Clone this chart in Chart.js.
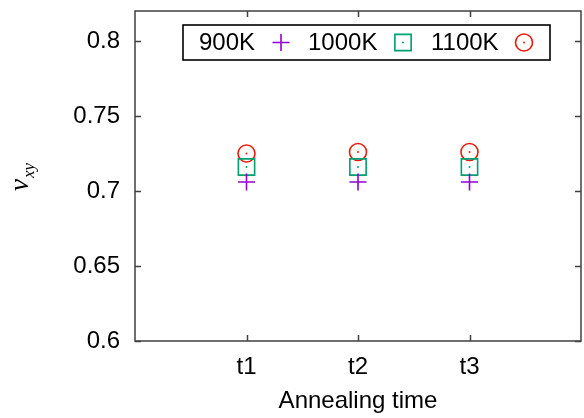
<!DOCTYPE html>
<html>
<head>
<meta charset="utf-8">
<script src="https://cdn.jsdelivr.net/npm/chart.js@4.4.1/dist/chart.umd.min.js"></script>
<style>
  html, body { margin: 0; padding: 0; background: #fff; }
  #wrap { width: 584px; height: 418px; }
</style>
</head>
<body>
<div id="wrap"><canvas id="nuChart" width="584" height="418"></canvas></div>
<script>
// annealing times and Poisson ratio nu_xy per temperature
var timeLabels = ['t1', 't2', 't3'];
var timePos = [1, 2, 3];
var seriesNames = ['900K', '1000K', '1100K'];
var nu900 = [0.706, 0.706, 0.706];
var nu1000 = [0.716, 0.716, 0.716];
var nu1100 = [0.725, 0.726, 0.726];
var yTicks = [0.6, 0.65, 0.7, 0.75, 0.8];

var colors = ['#9400d3', '#009e73', '#e51e10'];
var FONT = '"Liberation Sans", Arial, sans-serif';

function toPoints(vals) {
  return vals.map(function (v, i) { return { x: timePos[i], y: v }; });
}

// marker styles, shared by plot and key
var markers = [
  { pointStyle: 'cross', radius: 8.5 },
  { pointStyle: 'rect', radius: 11.5 },
  { pointStyle: 'circle', radius: 8.5 }
];
var seriesVals = [nu900, nu1000, nu1100];

var datasets = [];
seriesVals.forEach(function (vals, i) {
  datasets.push({
    label: seriesNames[i],
    data: toPoints(vals),
    showLine: false,
    pointStyle: markers[i].pointStyle,
    pointRadius: markers[i].radius,
    pointHoverRadius: markers[i].radius,
    pointBorderWidth: 1.6,
    borderColor: colors[i],
    backgroundColor: 'rgba(0,0,0,0)'
  });
});
// little centre dots inside the square and circle markers
[1, 2].forEach(function (i) {
  datasets.push({
    label: '',
    data: toPoints(seriesVals[i]),
    showLine: false,
    pointStyle: 'circle',
    pointRadius: 1,
    pointBorderWidth: 0,
    backgroundColor: colors[i],
    borderColor: colors[i]
  });
});

// no extra room for half labels at the axis ends
function noEdgePadding(scale) {
  scale.paddingTop = 0;
  scale.paddingBottom = 0;
  scale.paddingLeft = 0;
  scale.paddingRight = 0;
}

// border, inward ticks on all four sides, key box and y label
var gnuFrame = {
  id: 'gnuFrame',
  afterDraw: function (chart) {
    var ctx = chart.ctx;
    var ca = chart.chartArea;
    var xs = chart.scales.x, ys = chart.scales.y;
    var tl = 6;
    ctx.save();
    ctx.strokeStyle = '#404040';
    ctx.lineWidth = 1.5;
    ctx.beginPath();
    xs.ticks.forEach(function (t) {
      var px = Math.round(xs.getPixelForValue(t.value)) + 0.5;
      ctx.moveTo(px, ca.bottom); ctx.lineTo(px, ca.bottom - tl);
      ctx.moveTo(px, ca.top); ctx.lineTo(px, ca.top + tl);
    });
    ys.ticks.forEach(function (t) {
      var py = Math.round(ys.getPixelForValue(t.value)) + 0.5;
      ctx.moveTo(ca.left, py); ctx.lineTo(ca.left + tl, py);
      ctx.moveTo(ca.right, py); ctx.lineTo(ca.right - tl, py);
    });
    ctx.stroke();
    ctx.strokeRect(ca.left, ca.top, ca.right - ca.left, ca.bottom - ca.top);

    // key
    var bx = ca.left + 48, by = ca.top + 14, bw = 367, bh = 35;
    ctx.fillStyle = '#fff';
    ctx.fillRect(bx, by, bw, bh);
    ctx.strokeStyle = '#000';
    ctx.lineWidth = 1.6;
    ctx.strokeRect(bx, by, bw, bh);
    var textX = [16, 125, 248];
    var markX = [98, 220, 341];
    var cy = by + bh / 2;
    ctx.font = '24px ' + FONT;
    ctx.textBaseline = 'middle';
    ctx.textAlign = 'left';
    seriesNames.forEach(function (name, i) {
      ctx.fillStyle = '#000';
      ctx.fillText(name, bx + textX[i], cy + 1);
      ctx.strokeStyle = colors[i];
      ctx.fillStyle = 'rgba(0,0,0,0)';
      ctx.lineWidth = 1.6;
      Chart.helpers.drawPoint(ctx, {
        pointStyle: markers[i].pointStyle,
        radius: markers[i].radius,
        rotation: 0,
        borderWidth: 1.6
      }, bx + markX[i], cy);
      if (i > 0) {
        ctx.fillStyle = colors[i];
        ctx.beginPath();
        ctx.arc(bx + markX[i], cy, 1, 0, Math.PI * 2);
        ctx.fill();
      }
    });

    // y axis label: nu with subscript xy
    ctx.translate(28, (ca.top + ca.bottom) / 2 + 15);
    ctx.rotate(-Math.PI / 2);
    ctx.fillStyle = '#000';
    ctx.textBaseline = 'alphabetic';
    ctx.textAlign = 'left';
    ctx.font = 'italic 27px "Liberation Serif", serif';
    ctx.fillText('\u03bd', 0, 0);
    var w = ctx.measureText('\u03bd').width;
    ctx.font = 'italic 17px "Liberation Serif", serif';
    ctx.fillText('xy', w + 1, 6);
    ctx.restore();
  }
};

var ctx = document.getElementById('nuChart').getContext('2d');
var nuChart = new Chart(ctx, {
  type: 'scatter',
  data: { datasets: datasets },
  options: {
    responsive: false,
    devicePixelRatio: 1,
    animation: false,
    layout: { autoPadding: false, padding: { top: 11, right: 3, left: 0, bottom: 0 } },
    plugins: {
      legend: { display: false },
      tooltip: { enabled: false }
    },
    scales: {
      x: {
        type: 'linear',
        min: 0,
        max: 4,
        grid: { display: false, drawTicks: false },
        border: { display: false },
        afterBuildTicks: function (scale) {
          scale.ticks = timePos.map(function (v) { return { value: v }; });
        },
        afterFit: function (scale) {
          scale.height = 77;
          noEdgePadding(scale);
        },
        ticks: {
          padding: 12,
          color: '#000',
          font: { family: FONT, size: 24 },
          callback: function (value, index) { return timeLabels[index]; }
        },
        title: {
          display: true,
          text: 'Annealing time',
          color: '#000',
          font: { family: FONT, size: 24 },
          padding: { top: 2, bottom: 2 }
        }
      },
      y: {
        type: 'linear',
        min: 0.6,
        max: 0.82,
        grid: { display: false, drawTicks: false },
        border: { display: false },
        afterBuildTicks: function (scale) {
          scale.ticks = yTicks.map(function (v) { return { value: v }; });
        },
        afterFit: function (scale) {
          scale.width = 135;
          noEdgePadding(scale);
        },
        ticks: {
          padding: 15,
          color: '#000',
          font: { family: FONT, size: 24 },
          callback: function (value) { return String(value); }
        }
      }
    }
  },
  plugins: [gnuFrame]
});
</script>
</body>
</html>
